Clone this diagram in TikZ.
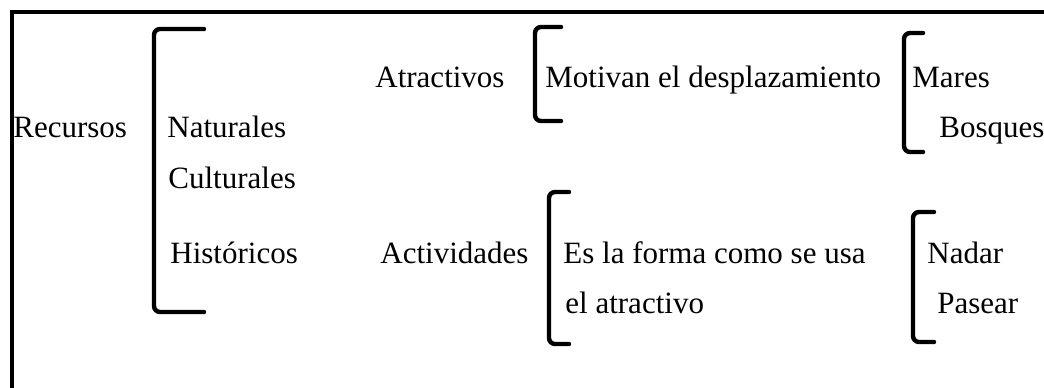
\documentclass[tikz,border=0pt]{standalone}
\usepackage{fontspec}
\setmainfont{Liberation Serif}
\usepackage{tikz}
\usetikzlibrary{positioning}
\newcommand{\FrameRight}{1044}

\tikzset{
	lbl/.style={anchor=base west, inner sep=0pt, font=\fontsize{15.5}{18}\selectfont},
	brk/.style={line width=2.2pt, rounded corners=3pt, line cap=round},
	frm/.style={line width=2pt}
}

\begin{document}
\begin{tikzpicture}[x=0.5pt, y=-0.5pt]
	\useasboundingbox (0,0) rectangle (\FrameRight,387);
	
	% draw frame
	\draw[frm] (12,400) -- (12,12) -- (\FrameRight,12);
	
	% draw brackets
	\foreach \x/\t/\b/\r in {154/29/312/204, 535/27/121/561, 904/33/152/923, 549/192/344/569, 913/212/342/934}
	\draw[brk] (\r,\t) -- (\x,\t) -- (\x,\b) -- (\r,\b);
	
	% draw nodes
	\node[lbl] (recursos) at (13,137) {Recursos};
	\node[lbl] (naturales) at (167,137) {Naturales};
	\node[lbl] (culturales) at (168,188) {Culturales};
	\node[lbl] (historicos) at (170,263) {Históricos};
	
	\node[lbl] (atractivos) at (375,87) {Atractivos};
	\node[lbl] (motivan) at (545,87) {Motivan el desplazamiento};
	\node[lbl] (mares) at (912,87) {Mares};
	\node[lbl] (bosques) at (939,137) {Bosques};
	
	\node[lbl] (actividades) at (380,263) {Actividades};
	\node[lbl] (forma) at (563,263) {Es la forma como se usa};
	\node[lbl] (atractivo) at (565,313) {el atractivo};
	\node[lbl] (nadar) at (927,263) {Nadar};
	\node[lbl] (pasear) at (937,313) {Pasear};
	
\end{tikzpicture}
\end{document}
